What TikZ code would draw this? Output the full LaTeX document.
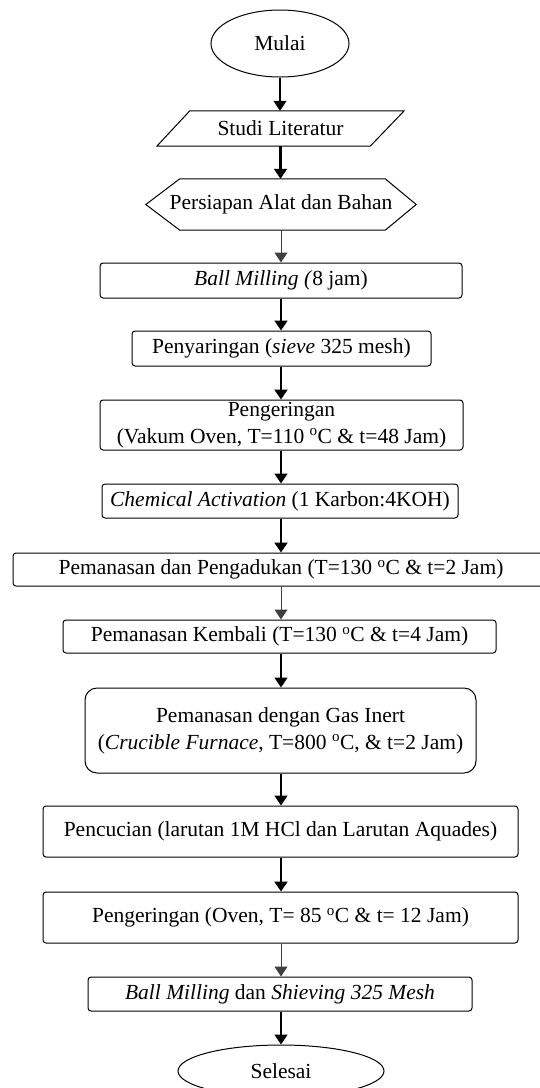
\documentclass[tikz,border=0pt]{standalone}
\usepackage{fontspec}
\setmainfont{Liberation Serif}
\usetikzlibrary{arrows.meta,shapes.geometric,positioning}

\begin{document}
\begin{tikzpicture}
%Flowchart of the carbon preparation
	[
	 x=1pt, y=-1pt,
	 %Styles
	 font=\fontsize{21.5}{27}\selectfont,
	 terminal_node/.style={ellipse,draw=black,line width=1pt,inner sep=0pt},
	 process_node/.style={rectangle,rounded corners=3pt,draw=black,line width=1pt,inner sep=0pt,align=center},
	 plain_node/.style={rectangle,inner sep=0pt},
	 shape_line/.style={draw=black,line width=1pt},
	 flow_arrow/.style={-{Triangle[width=13pt,length=10pt]},line width=1.5pt},
	 thick_arrow/.style={flow_arrow,line width=2.2pt},
	 thin_arrow/.style={flow_arrow,line width=1pt,draw=black!75}
	]

	\useasboundingbox (0,0) rectangle (539,1088);

	%Node placement
	\node (mulai) at (280,43.5) [terminal_node,minimum width=138pt,minimum height=67pt] {Mulai};
	\node (studi) at (280.5,128.5) [plain_node,minimum width=247pt,minimum height=35pt] {Studi Literatur};
	\node (persiapan) at (281,204.5) [plain_node,minimum width=270pt,minimum height=51pt] {Persiapan Alat dan Bahan};
	\node (milling) at (281,280.5) [process_node,minimum width=362pt,minimum height=35pt] {\textit{Ball Milling (}8 jam)};
	\node (saring) at (281.5,348.5) [process_node,minimum width=299pt,minimum height=35pt] {Penyaringan (\textit{sieve} 325 mesh)};
	\node (kering) at (281.5,425) [process_node,minimum width=363pt,minimum height=50pt] {Pengeringan\\(Vakum Oven, T=110 \textsuperscript{o}C \& t=48 Jam)};
	\node (aktivasi) at (280,501) [process_node,minimum width=356pt,minimum height=34pt] {\textit{Chemical Activation} (1 Karbon:4KOH)};
	\node (aduk) at (281,569.5) [process_node,minimum width=536pt,minimum height=33pt] {Pemanasan dan Pengadukan (T=130 \textsuperscript{o}C \& t=2 Jam)};
	\node (kembali) at (279.5,636.5) [process_node,minimum width=433pt,minimum height=33pt] {Pemanasan Kembali (T=130 \textsuperscript{o}C \& t=4 Jam)};
	\node (inert) at (280.5,730.5) [process_node,rounded corners=12pt,minimum width=391pt,minimum height=85pt] {Pemanasan dengan Gas Inert\\(\textit{Crucible Furnace}, T=800 \textsuperscript{o}C, \& t=2 Jam)};
	\node (cuci) at (280.5,831.5) [process_node,minimum width=475pt,minimum height=51pt] {Pencucian (larutan 1M HCl dan Larutan Aquades)};
	\node (kering2) at (280.5,917.5) [process_node,minimum width=475pt,minimum height=51pt] {Pengeringan (Oven, T= 85 \textsuperscript{o}C \& t= 12 Jam)};
	\node (milling2) at (280,994) [process_node,minimum width=384pt,minimum height=34pt] {\textit{Ball Milling} dan \textit{Shieving 325 Mesh}};
	\node (selesai) at (281,1071) [terminal_node,minimum width=206pt,minimum height=52pt] {Selesai};

	%Outlines of the input and preparation shapes
	\draw[shape_line] (studi.south west) -- ([xshift=33pt]studi.north west) -- (studi.north east)
		-- ([xshift=-34pt]studi.south east) -- cycle;
	\draw[shape_line] (persiapan.west) -- ([xshift=34pt]persiapan.north west) -- ([xshift=-31pt]persiapan.north east)
		-- (persiapan.east) -- ([xshift=-31pt]persiapan.south east) -- ([xshift=34pt]persiapan.south west) -- cycle;

	%Edges
	\draw[flow_arrow] (mulai) -- (mulai |- studi.north);
	\draw[thick_arrow] (studi) -- (studi |- persiapan.north);
	\draw[thin_arrow] (persiapan) -- (persiapan |- milling.north);
	\draw[flow_arrow] (milling) -- (milling |- saring.north);
	\draw[thick_arrow] (saring.south -| milling) -- (milling |- kering.north);
	\draw[flow_arrow] (kering.south -| milling) -- (milling |- aktivasi.north);
	\draw[thick_arrow] (aktivasi.south -| milling) -- (milling |- aduk.north);
	\draw[thin_arrow] (aduk.south -| milling) -- (milling |- kembali.north);
	\draw[flow_arrow] (kembali.south -| milling) -- (milling |- inert.north);
	\draw[flow_arrow] (inert.south -| milling) -- (milling |- cuci.north);
	\draw[thick_arrow] (cuci.south -| milling) -- (milling |- kering2.north);
	\draw[thin_arrow] (kering2.south -| milling) -- (milling |- milling2.north);
	\draw[flow_arrow] (milling2.south -| milling) -- (milling |- selesai.north);
\end{tikzpicture}
\end{document}
